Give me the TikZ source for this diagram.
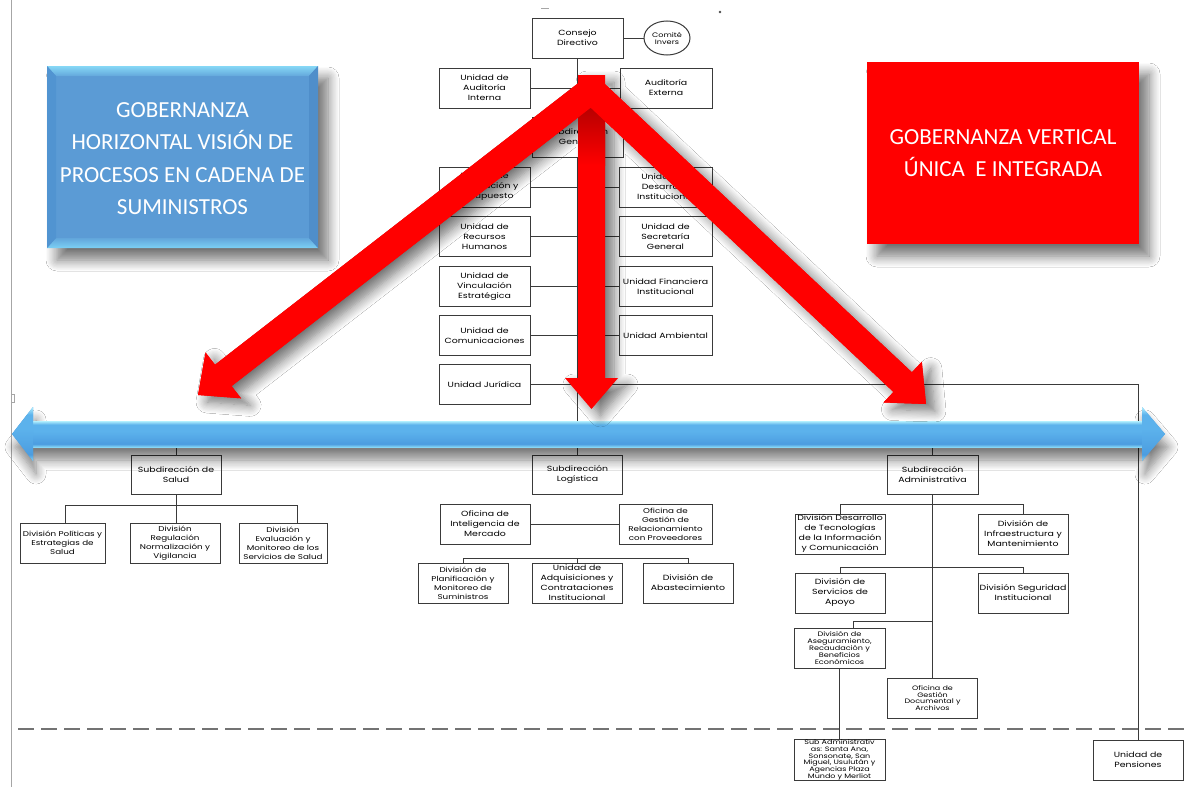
\documentclass[tikz,border=0pt]{standalone}
\usepackage{fontspec}
\usetikzlibrary{calc,shapes.geometric,shadows.blur}
\newfontfamily\boxfam[FakeStretch=1.25]{Poppins}
\newfontfamily\titfam{Carlito}
\newcommand\bxf{\boxfam\fontsize{7.5}{10}\selectfont}
\newcommand\bxm{\boxfam\fontsize{7}{9}\selectfont}
\newcommand\bxt{\boxfam\fontsize{6.5}{7}\selectfont}
\newcommand\bxc{\boxfam\fontsize{6.4}{6.7}\selectfont}
\definecolor{linec}{HTML}{3A3A3A}
\definecolor{boxblue}{HTML}{5B9BD5}
\definecolor{bevtop}{HTML}{86D8F6}
\definecolor{bevbot}{HTML}{7CD0F4}
\definecolor{bevside}{HTML}{5194D1}
\definecolor{bevsider}{HTML}{4F8ECA}
\definecolor{bbtop}{HTML}{B2F0FE}
\definecolor{bbmid}{HTML}{5CB2EC}
\definecolor{bbbody}{HTML}{4C9DE0}
\definecolor{bbbot}{HTML}{86D6F6}
\definecolor{redarr}{HTML}{FF0000}
\pgfdeclareverticalshading{bluebar}{100bp}{color(0bp)=(bbbot); color(25bp)=(bbbot); color(31bp)=(bbbody); color(55bp)=(bbmid); color(68bp)=(bbmid); color(75bp)=(bbtop); color(100bp)=(bbtop)}
\begin{document}
\begin{tikzpicture}[x=1pt,y=-1pt,
  bx/.style={draw=linec, line width=1pt, fill=white, align=center, inner sep=0pt, minimum width=91pt, minimum height=40pt, font=\bxf},
  ln/.style={draw=linec, line width=1pt},
  titletext/.style={text=white, align=center, font=\titfam\fontsize{23}{32.3}\selectfont},
  softshadow/.style={blur shadow={shadow xshift=10pt, shadow yshift=-12pt, shadow blur radius=11pt, shadow blur steps=10, shadow opacity=55}},
]
\useasboundingbox (0,0) rectangle (1186,787);
\fill[white] (0,0) rectangle (1186,787);

% page edge marks
\draw[black!35, line width=0.8pt] (11,0) -- (11,787);
\draw[black!35, line width=0.8pt] (11,394) -- (14,394) -- (14,402) -- (11,402);
\fill[black!70] (720,12) circle (1.3);
\draw[black!35, line width=0.8pt] (541,8) -- (549,8);

% ---------- upper org chart ----------
\node[bx] (cd) at (577.5,38) {Consejo\\Directivo};
\node[draw=linec, line width=1pt, fill=white, ellipse, minimum width=46pt, minimum height=34pt, inner sep=0pt, align=center, font=\bxt] (ci) at (667,38) {Comité\\Invers};
\node[bx] (aui) at (484.5,88) {Unidad de\\Auditoría\\Interna};
\node[bx, minimum width=92pt] (aue) at (666,88) {Auditoría\\Externa};
\node[bx] (sg) at (577.5,137) {Subdirección\\General};
\node[bx] (plan) at (484.5,187) {Unidad de\\Planificación y\\Presupuesto};
\node[bx, minimum width=93pt] (des) at (665.5,187) {Unidad de\\Desarrollo\\Institucional};
\node[bx] (rh) at (484.5,236.5) {Unidad de\\Recursos\\Humanos};
\node[bx, minimum width=93pt] (sec) at (665.5,236.5) {Unidad de\\Secretaría\\General};
\node[bx] (vin) at (484.5,286.5) {Unidad de\\Vinculación\\Estratégica};
\node[bx, minimum width=93pt] (fin) at (665.5,286.5) {Unidad Financiera\\Institucional};
\node[bx] (com) at (484.5,335.5) {Unidad de\\Comunicaciones};
\node[bx, minimum width=93pt] (amb) at (665.5,335.5) {Unidad Ambiental};
\node[bx] (jur) at (484.5,384.5) {Unidad Jurídica};

% ---------- lower org chart ----------
\node[bx, minimum width=90pt, minimum height=39pt] (ss) at (176,474.5) {Subdirección de\\Salud};
\node[bx, minimum width=85pt, font=\bxm] (dps) at (62.5,543) {División Políticas y\\Estrategias de\\Salud};
\node[bx, minimum width=90pt, font=\bxm] (drg) at (175,543) {División\\Regulación\\Normalización y\\Vigilancia};
\node[bx, minimum width=88pt, font=\bxm] (dem) at (283,543) {División\\Evaluación y\\Monitoreo de los\\Servicios de Salud};

\node[bx, minimum width=90pt, minimum height=39pt] (sl) at (577.5,474.5) {Subdirección\\Logística};
\node[bx, minimum width=90pt] (oim) at (485,524) {Oficina de\\Inteligencia de\\Mercado};
\node[bx, minimum width=93pt, font=\bxm] (ogr) at (665.5,524) {Oficina de\\Gestión de\\Relacionamiento\\con Proveedores};
\node[bx, minimum width=90pt, font=\bxm] (dpm) at (463,583) {División de\\Planificación y\\Monitoreo de\\Suministros};
\node[bx, minimum width=90pt, font=\bxf] (uac) at (577,583) {Unidad de\\Adquisiciones y\\Contrataciones\\Institucional};
\node[bx, minimum width=90pt] (dab) at (688,583) {División de\\Abastecimiento};

\node[bx, minimum width=91pt, minimum height=39pt] (sa) at (932.5,474.5) {Subdirección\\Administrativa};
\node[bx, minimum width=90pt] (ddt) at (840,534) {División Desarrollo\\de Tecnologías\\de la Información\\y Comunicación};
\node[bx, minimum width=90pt] (dim) at (1023,534) {División de\\Infraestructura y\\Mantenimiento};
\node[bx, minimum width=90pt] (dsa) at (840,593) {División de\\Servicios de\\Apoyo};
\node[bx, minimum width=90pt] (dsi) at (1023,593) {División Seguridad\\Institucional};
\node[bx, minimum width=91pt, font=\bxt] (das) at (839.5,648) {División de\\Aseguramiento,\\Recaudación y\\Beneficios\\Económicos};
\node[bx, minimum width=90pt, font=\bxc] (ogd) at (932.5,698) {Oficina de\\Gestión\\Documental y\\Archivos};
\node[bx, minimum width=91pt, font=\bxc] (sadm) at (839.5,760) {Sub Administrativ\\as: Santa Ana,\\Sonsonate, San\\Miguel, Usulután y\\Agencias Plaza\\Mundo y Merliot};
\node[bx, minimum width=90pt] (upen) at (1138,760) {Unidad de\\Pensiones};

% ---------- connectors ----------
\draw[ln] (cd.east) -- (ci.west);
\draw[ln] (cd.south) -- (sg.north);
\draw[ln] (sg.south) -- (sl.north);
\draw[ln] (aui.east) -- (aue.west);
\draw[ln] (plan.east) -- (des.west);
\draw[ln] (rh.east) -- (sec.west);
\draw[ln] (vin.east) -- (fin.west);
\draw[ln] (com.east) -- (amb.west);
\draw[ln] (jur.east) -- (jur.east -| upen.north) -- (upen.north);

\coordinate (sbl) at (65,505);
\coordinate (sbr) at (297,505);
\draw[ln] (ss.north) -- ++(0,-15);
\draw[ln] (ss.south) -- (ss.south |- sbl);
\draw[ln] (sbl) -- (sbr);
\draw[ln] (sbl) -- (sbl |- dps.north);
\draw[ln] (ss.south |- sbl) -- (ss.south |- drg.north);
\draw[ln] (sbr) -- (sbr |- dem.north);

\coordinate (lbl) at (463,558);
\coordinate (lbr) at (688,558);
\draw[ln] (oim.east) -- (ogr.west);
\draw[ln] (lbl) -- (lbr);
\draw[ln] (lbl) -- (dpm.north);
\draw[ln] (lbl -| uac.north) -- (uac.north);
\draw[ln] (lbr) -- (dab.north);

\coordinate (a1l) at (840,504);
\coordinate (a1r) at (1023,504);
\coordinate (a2l) at (840,567);
\coordinate (a2r) at (1023,567);
\coordinate (a3l) at (853,621);
\draw[ln] (sa.north) -- ++(0,-15);
\draw[ln] (sa.south) -- (ogd.north);
\draw[ln] (a1l) -- (a1r);
\draw[ln] (a1l) -- (ddt.north);
\draw[ln] (a1r) -- (dim.north);
\draw[ln] (a2l) -- (a2r);
\draw[ln] (a2l) -- (dsa.north);
\draw[ln] (a2r) -- (dsi.north);
\draw[ln] (a3l) -- (a3l -| sa.south);
\draw[ln] (a3l) -- (a3l |- das.north);
\draw[ln] (das.south) -- (sadm.north);

% dashed separator
\coordinate (dsl) at (18,729);
\coordinate (dsr) at (1186,729);
\draw[black!55, line width=1.4pt, dash pattern=on 16pt off 7pt] (dsl) -- (dsr);

% ---------- blue double arrow ----------
\fill[bbbody, blur shadow={shadow xshift=3pt, shadow yshift=-13pt, shadow blur radius=10pt, shadow blur steps=10, shadow opacity=50}]
  (12,434) -- (33,407) -- (33,421) -- (1142,421) -- (1142,407) -- (1165,434) -- (1142,461) -- (1142,447) -- (33,447) -- (33,461) -- cycle;
\shade[shading=bluebar] (33,421) rectangle (1142,447);
\shade[shading=bluebar] (12,434) -- (33,407) -- (33,461) -- cycle;
\shade[shading=bluebar] (1142,407) -- (1165,434) -- (1142,461) -- cycle;

% ---------- red arrows ----------
\coordinate (ra) at (591.5,90);
\coordinate (rtl) at (198,395);
\coordinate (rtr) at (926,404);
\coordinate (LB) at ($(rtl)!32pt!(ra)$);
\coordinate (Ls1) at ($(ra)!13.5pt!90:(rtl)$);
\coordinate (Ls2) at ($(ra)!13.5pt!-90:(rtl)$);
\coordinate (Lb1) at ($(LB)!13.5pt!90:(rtl)$);
\coordinate (Lb2) at ($(LB)!13.5pt!-90:(rtl)$);
\coordinate (Lh1) at ($(LB)!29pt!90:(rtl)$);
\coordinate (Lh2) at ($(LB)!29pt!-90:(rtl)$);
\coordinate (RB) at ($(rtr)!32pt!(ra)$);
\coordinate (Rs1) at ($(ra)!13.5pt!90:(rtr)$);
\coordinate (Rs2) at ($(ra)!13.5pt!-90:(rtr)$);
\coordinate (Rb1) at ($(RB)!13.5pt!90:(rtr)$);
\coordinate (Rb2) at ($(RB)!13.5pt!-90:(rtr)$);
\coordinate (Rh1) at ($(RB)!28pt!90:(rtr)$);
\coordinate (Rh2) at ($(RB)!28pt!-90:(rtr)$);

\fill[redarr, blur shadow={shadow xshift=9pt, shadow yshift=-7pt, shadow blur radius=11pt, shadow blur steps=10, shadow opacity=55}]
  (578,75) -- (605,75) -- (605,378) -- (618,378) -- (591.5,409) -- (565,378) -- (578,378) -- cycle
  (Ls1) -- (Lb1) -- (Lh1) -- (rtl) -- (Lh2) -- (Lb2) -- (Ls2) -- cycle
  (Rs1) -- (Rb1) -- (Rh1) -- (rtr) -- (Rh2) -- (Rb2) -- (Rs2) -- cycle;
\shade[top color=red!70!black, bottom color=redarr] (578,104) rectangle (605,165);
\fill[redarr]
  (Ls1) -- (Lb1) -- (Lh1) -- (rtl) -- (Lh2) -- (Lb2) -- (Ls2) -- cycle
  (Rs1) -- (Rb1) -- (Rh1) -- (rtr) -- (Rh2) -- (Rb2) -- (Rs2) -- cycle;

% ---------- blue title box ----------
\fill[boxblue, softshadow] (47,66) rectangle (318,248);
\shade[top color=bevtop, bottom color=boxblue!80!bevtop] (47,66) -- (318,66) -- (309,76) -- (56,76) -- cycle;
\shade[top color=boxblue!80!bevbot, bottom color=bevbot] (56,238) -- (309,238) -- (318,248) -- (47,248) -- cycle;
\fill[bevside] (47,66) -- (56,76) -- (56,238) -- (47,248) -- cycle;
\fill[bevsider] (318,66) -- (309,76) -- (309,238) -- (318,248) -- cycle;
\node[titletext] (btxt) at (182.5,158.5) {GOBERNANZA\\HORIZONTAL VISIÓN DE\\PROCESOS EN CADENA DE\\SUMINISTROS};

% ---------- red title box ----------
\node[fill=redarr, minimum width=272pt, minimum height=182pt, inner sep=0pt, titletext, softshadow]
  (rbox) at (1003,153) {GOBERNANZA VERTICAL\\ÚNICA\ \ E INTEGRADA};
\end{tikzpicture}
\end{document}
